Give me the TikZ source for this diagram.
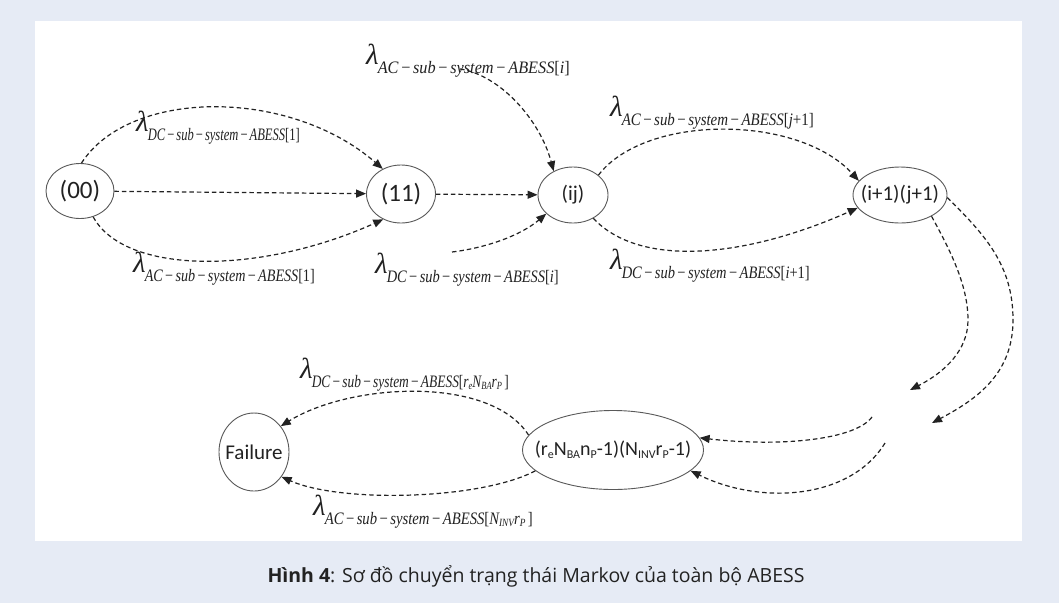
\documentclass[tikz,border=0pt]{standalone}
\usepackage{fontspec}
\usepackage{graphicx}
\usetikzlibrary{shapes.geometric,arrows.meta}
\newfontfamily\nodef{Carlito}
\newfontfamily\serf{Liberation Serif}
\newfontfamily\capf{Open Sans}
\definecolor{bgc}{HTML}{E6EBF5}
\definecolor{ink}{HTML}{222222}
\newcommand\lamb[2]{{\serf\itshape\fontsize{29}{29}\selectfont λ}\kern-1pt\raisebox{-9pt}{\resizebox{#2}{\height}{\serf\itshape\fontsize{17.5}{17.5}\selectfont #1}}}
\newcommand\mn{\,{\upshape −}\,}
\newcommand\sbs[1]{\raisebox{-2.5pt}{\fontsize{11}{11}\selectfont #1}}
\newcommand\nsub[1]{\raisebox{-3pt}{\fontsize{12}{12}\selectfont #1}}
\begin{document}
\begin{tikzpicture}[x=1pt,y=-1pt,
  st/.style={ellipse,draw=black!65,line width=0.9pt,inner sep=0pt,text=ink,font=\nodef\fontsize{21}{21}\selectfont},
  dl/.style={draw=ink,line width=1.2pt,dash pattern=on 4.5pt off 3pt,-{Triangle[length=10pt,width=8pt]}},
  lbl/.style={inner sep=0pt,anchor=base west,text=ink}]
\fill[bgc] (0,0) rectangle (1059,603);
\fill[white] (35,21) rectangle (1022,541);
\useasboundingbox (0,0) rectangle (1059,603);

\node[st,minimum width=68pt,minimum height=55pt,font=\nodef\fontsize{25}{25}\selectfont] (n00) at (80,191) {(00)};
\node[st,minimum width=69pt,minimum height=58pt,font=\nodef\fontsize{25}{25}\selectfont] (n11) at (401,194) {(11)};
\node[st,minimum width=70pt,minimum height=56pt] (nij) at (573,195) {(ij)};
\node[st,minimum width=94pt,minimum height=56pt,inner xsep=-6pt] (nii) at (900,195) {(i+1)(j+1)};
\node[st,minimum width=70pt,minimum height=78pt,inner xsep=-6pt] (fail) at (254,452) {Failure};
\node[st,minimum width=181pt,minimum height=79pt,inner xsep=-16pt,font=\nodef\fontsize{20}{20}\selectfont] (big) at (613,450) {(r\nsub{e}N\nsub{BA}n\nsub{P}-1)(N\nsub{INV}r\nsub{P}-1)};

\draw[dl] (n00) -- (n11);
\draw[dl] (n00.87) .. controls (130,88) and (290,88) .. (n11.126);
\draw[dl] (n00.-63) .. controls (125,275) and (260,275) .. (n11.235);
\draw[dl] (n11) -- (nij);
\coordinate (s1) at (460,69);
\draw[dl] (s1) .. controls (500,75) and (540,120) .. (nij.129);
\coordinate (s2) at (452,252);
\draw[dl] (s2) .. controls (485,248) and (520,236) .. (nij.215);
\draw[dl] (nij.38) .. controls (645,114) and (798,114) .. (nii.161);
\draw[dl] (nij.-49) .. controls (640,268) and (745,258) .. (nii.197);
\coordinate (e1) at (932,423);
\draw[dl] (nii.-3) .. controls (985,235) and (1013,265) .. (1013,320) .. controls (1013,375) and (975,400) .. (e1);
\coordinate (e2) at (910,390);
\draw[dl] (nii.-34) .. controls (950,250) and (968,285) .. (968,320) .. controls (968,350) and (945,372) .. (e2);
\coordinate (s3) at (872,417);
\draw[dl] (s3) .. controls (855,440) and (780,447) .. (big.8);
\coordinate (s4) at (885,443);
\draw[dl] (s4) .. controls (850,500) and (760,505) .. (big.-15);
\draw[dl] (big.170) .. controls (490,375) and (350,383) .. (fail.44);
\draw[dl] (big.195) .. controls (480,500) and (340,503) .. (fail.-42);

\node[lbl] (l1) at (366,64) {\lamb{AC\mn sub\mn system\mn ABESS{\upshape[}i{\upshape]}}{192pt}};
\node[lbl] (l2) at (136,131) {\lamb{DC\mn sub\mn system\mn ABESS{\upshape[1]}}{152pt}};
\node[lbl] (l3) at (133,272) {\lamb{AC\mn sub\mn system\mn ABESS{\upshape[1]}}{170pt}};
\node[lbl] (l4) at (375,273) {\lamb{DC\mn sub\mn system\mn ABESS{\upshape[}i{\upshape]}}{172pt}};
\node[lbl] (l5) at (610,116) {\lamb{AC\mn sub\mn system\mn ABESS{\upshape[}j{\upshape+1]}}{192pt}};
\node[lbl] (l6) at (610,269) {\lamb{DC\mn sub\mn system\mn ABESS{\upshape[}i{\upshape+1]}}{188pt}};
\node[lbl] (l7) at (300,378) {\lamb{DC\mn sub\mn system\mn ABESS{\upshape[}r\sbs{e}N\sbs{BA}r\sbs{P}\,{\upshape]}}{197pt}};
\node[lbl] (l8) at (313,515) {\lamb{AC\mn sub\mn system\mn ABESS{\upshape[}N\sbs{INV}r\sbs{P}\,{\upshape]}}{208pt}};

\node[anchor=base,inner sep=0pt,text=ink] (cap) at (536,582) {\capf\fontsize{19.5}{19.5}\selectfont\textbf{Hình 4}: Sơ đồ chuyển trạng thái Markov của toàn bộ ABESS};
\end{tikzpicture}
\end{document}
